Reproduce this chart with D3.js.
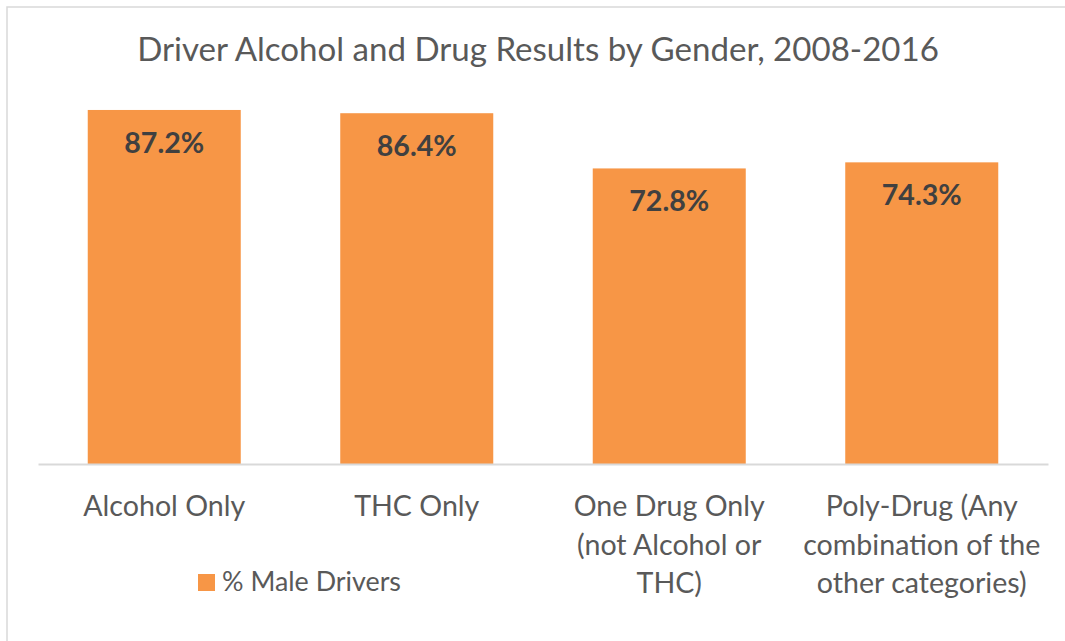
<!DOCTYPE html>
<html><head><meta charset="utf-8">
<script src="https://cdn.jsdelivr.net/npm/d3@7"></script>
<style>html,body{margin:0;padding:0;background:#fff;overflow:hidden}</style>
</head><body>
<svg id="chart" width="1065" height="641"></svg>
<script>
const categories = ["Alcohol Only", "THC Only", "One Drug Only (not Alcohol or THC)", "Poly-Drug (Any combination of the other categories)"];
const categoryLines = [["Alcohol Only"], ["THC Only"], ["One Drug Only", "(not Alcohol or", "THC)"], ["Poly-Drug (Any", "combination of the", "other categories)"]];
const maleValues = [87.2, 86.4, 72.8, 74.3];
const seriesName = "% Male Drivers";
const titleText = "Driver Alcohol and Drug Results by Gender, 2008-2016";

const FONT = "Lato, 'Open Sans', sans-serif";
const svg = d3.select("#chart");

// chart frame (extends beyond the viewport)
svg.append("rect").attr("x", 7).attr("y", 7).attr("width", 1200).attr("height", 800)
  .attr("fill", "#fff").attr("stroke", "#d9d9d9").attr("stroke-width", 1.5);

const x = d3.scaleBand().domain(categories).range([38, 1048]).paddingInner(0.394).paddingOuter(0.197);
const y = d3.scaleLinear().domain([0, 100]).range([464, 58]);

function fit(sel, target) {
  const w = sel.node().getComputedTextLength();
  const fs = parseFloat(sel.attr("font-size"));
  sel.attr("font-size", fs * target / w);
}

// title
const t = svg.append("text").attr("x", 538).attr("y", 61).attr("text-anchor", "middle")
  .attr("font-family", FONT).attr("font-size", 28).attr("fill", "#595959").text(titleText);
fit(t, 802);

// bars
svg.append("g").selectAll("rect").data(maleValues).join("rect")
  .attr("x", (d, i) => x(categories[i])).attr("width", x.bandwidth())
  .attr("y", d => y(d)).attr("height", d => y(0) - y(d)).attr("fill", "#F79646");

// axis baseline
const axis = svg.append("g").attr("transform", "translate(0,464)")
  .call(d3.axisBottom(x).tickSize(0).tickFormat(""));
axis.select(".domain").attr("stroke", "#d9d9d9").attr("stroke-width", 2);

// data labels
const labels = svg.append("g").selectAll("text").data(maleValues).join("text")
  .attr("x", (d, i) => x(categories[i]) + x.bandwidth() / 2)
  .attr("y", d => y(d) + 43).attr("text-anchor", "middle")
  .attr("font-family", FONT).attr("font-weight", "bold").attr("font-size", 25)
  .attr("fill", "#404040").text(d => d.toFixed(1) + "%");
fit(labels.filter((d, i) => i === 0), 80);
const lfs = labels.filter((d, i) => i === 0).attr("font-size");
labels.attr("font-size", lfs);

// category labels
const catG = svg.append("g");
let catFs = null;
categoryLines.forEach((lines, i) => {
  const cx = x(categories[i]) + x.bandwidth() / 2;
  lines.forEach((ln, j) => {
    const tx = catG.append("text").attr("x", cx).attr("y", 516 + j * 38.5)
      .attr("text-anchor", "middle").attr("font-family", FONT).attr("font-size", 26)
      .attr("fill", "#595959").text(ln);
    if (i === 0 && j === 0) { fit(tx, 162); catFs = tx.attr("font-size"); }
  });
});
catG.selectAll("text").attr("font-size", catFs);

// legend
const lg = svg.append("g");
lg.append("rect").attr("x", 198).attr("y", 574).attr("width", 17).attr("height", 17).attr("fill", "#F79646");
const lt = lg.append("text").attr("x", 222).attr("y", 591).attr("font-family", FONT)
  .attr("font-size", 26).attr("fill", "#595959").text(seriesName);
fit(lt, 179);
</script>
</body></html>
